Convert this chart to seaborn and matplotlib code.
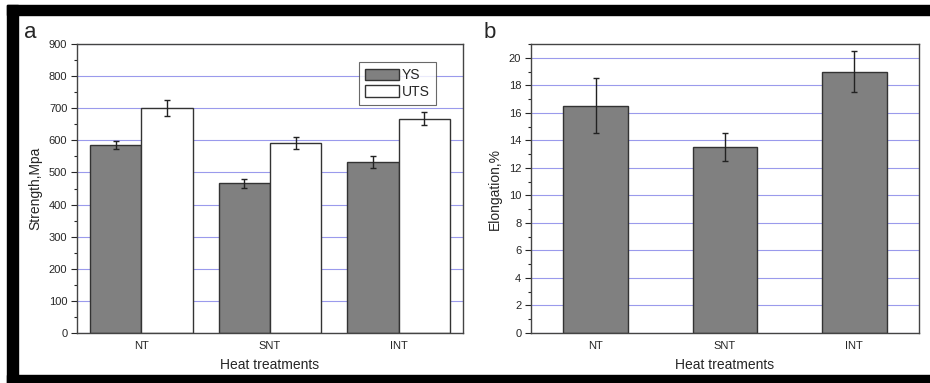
import numpy as np
import pandas as pd
import seaborn as sns
import matplotlib.pyplot as plt
from matplotlib.patches import Patch, Rectangle
from matplotlib.ticker import MultipleLocator

treatments = ["NT", "SNT", "INT"]
ys = [585, 467, 532]
ys_err = [12, 14, 18]
uts = [700, 592, 668]
uts_err = [25, 18, 20]
elong = [16.5, 13.5, 19.0]
elong_err = [2.0, 1.0, 1.5]

sns.set_style("white")
plt.rcParams['font.family'] = ['Liberation Sans', 'DejaVu Sans']

grid_c = '#9a9aec'
bar_c = '#808080'

fig = plt.figure(figsize=(9.3, 3.83), dpi=100)
ax1 = fig.add_axes([0.0828, 0.1305, 0.415, 0.7546])
ax2 = fig.add_axes([0.571, 0.1305, 0.4172, 0.7546])

df_a = pd.DataFrame({
    "treat": treatments * 2,
    "kind": ["YS"] * 3 + ["UTS"] * 3,
    "val": ys + uts,
})
sns.barplot(data=df_a, x="treat", y="val", hue="kind", order=treatments,
            hue_order=["YS", "UTS"], palette={"YS": bar_c, "UTS": "white"},
            width=0.8, edgecolor='#333333', linewidth=1, saturation=1,
            errorbar=None, legend=False, ax=ax1)
for cont, errs in zip(ax1.containers, [ys_err, uts_err]):
    xs = [p.get_x() + p.get_width() / 2 for p in cont]
    hs = [p.get_height() for p in cont]
    ax1.errorbar(xs, hs, yerr=errs, fmt='none', ecolor='#222222',
                 elinewidth=1, capsize=2.5, capthick=1, zorder=3)

df_b = pd.DataFrame({"treat": treatments, "val": elong})
sns.barplot(data=df_b, x="treat", y="val", order=treatments, color=bar_c,
            width=0.5, edgecolor='#333333', linewidth=1, saturation=1,
            errorbar=None, ax=ax2)
cont = ax2.containers[0]
xs = [p.get_x() + p.get_width() / 2 for p in cont]
ax2.errorbar(xs, elong, yerr=elong_err, fmt='none', ecolor='#222222',
             elinewidth=1, capsize=2.5, capthick=1, zorder=3)

ax1.set_ylim(0, 900)
ax1.yaxis.set_major_locator(MultipleLocator(100))
ax1.yaxis.set_minor_locator(MultipleLocator(50))
ax2.set_ylim(0, 21)
ax2.yaxis.set_major_locator(MultipleLocator(2))
ax2.yaxis.set_minor_locator(MultipleLocator(1))

for ax, lab in [(ax1, "Strength,Mpa"), (ax2, "Elongation,%")]:
    ax.set_xlim(-0.5, 2.5)
    ax.set_xlabel("Heat treatments", fontsize=10, labelpad=5)
    ax.set_ylabel(lab, fontsize=10, labelpad=5)
    ax.tick_params(axis='y', which='major', direction='out', length=4,
                   width=0.8, labelsize=8, left=True, pad=3)
    ax.tick_params(axis='y', which='minor', direction='out', length=2.5,
                   width=0.8, left=True)
    ax.tick_params(axis='x', length=0, labelsize=8, pad=6)
    ax.set_axisbelow(True)
    ax.yaxis.grid(True, which='major', color=grid_c, lw=0.8)
    ax.xaxis.grid(False)
    for s in ax.spines.values():
        s.set_color('#444444')
        s.set_linewidth(1)

handles = [Patch(facecolor=bar_c, edgecolor='#333333', label="YS"),
           Patch(facecolor='white', edgecolor='#333333', label="UTS")]
leg = ax1.legend(handles=handles, loc='upper right', bbox_to_anchor=(0.947, 0.962),
                 fontsize=10, frameon=True, fancybox=False, handlelength=2.4,
                 handleheight=0.9, handletextpad=0.2, borderpad=0.45,
                 labelspacing=0.2)
leg.get_frame().set_edgecolor('#444444')
leg.get_frame().set_linewidth(0.8)

fig.text(30 / 930, 1 - 33 / 383, "a", fontsize=16, ha='center', va='center')
fig.text(490 / 930, 1 - 33 / 383, "b", fontsize=16, ha='center', va='center')

# black frame: top, left and bottom
fig.patches.append(Rectangle((7 / 930, 1 - 15 / 383), 1, 10 / 383,
                             transform=fig.transFigure, color='black', zorder=5))
fig.patches.append(Rectangle((7 / 930, 0), 11 / 930, 1 - 5 / 383,
                             transform=fig.transFigure, color='black', zorder=5))
fig.patches.append(Rectangle((7 / 930, 0), 1, 8 / 383,
                             transform=fig.transFigure, color='black', zorder=5))

fig.savefig("out.png", dpi=100)
